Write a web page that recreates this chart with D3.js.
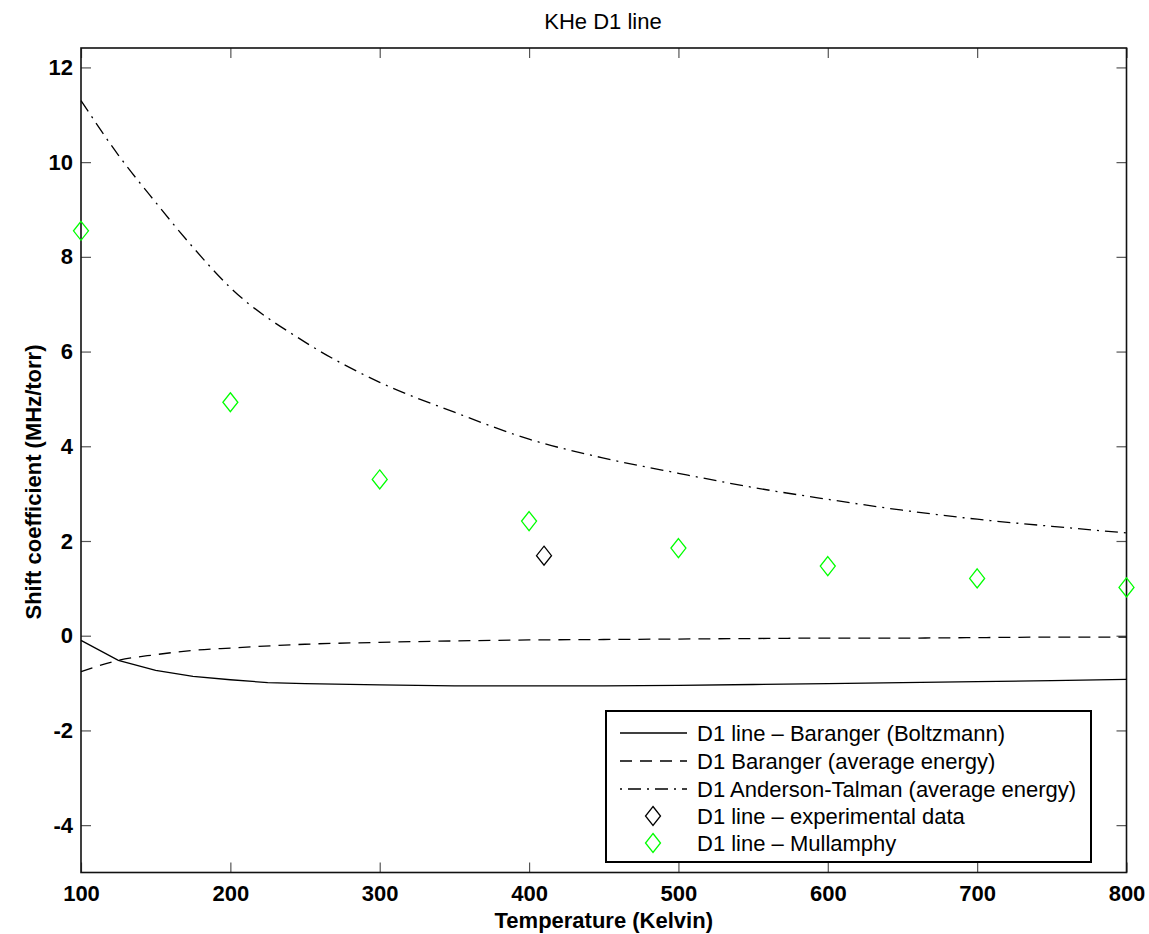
<!DOCTYPE html>
<html><head><meta charset="utf-8">
<script src="https://cdn.jsdelivr.net/npm/d3@7"></script>
<style>body{margin:0;background:#fff}svg{display:block}text{font-family:"Liberation Sans",Arial,sans-serif}</style>
</head><body><svg id="c" width="1149" height="934"></svg>
<script>
// Data
const tempBoltz = [100,125,150,175,200,225,250,300,350,400,450,500,550,600,650,700,750,800];
const shiftBoltz = [-0.10,-0.52,-0.73,-0.86,-0.93,-0.99,-1.01,-1.04,-1.06,-1.06,-1.06,-1.05,-1.03,-1.01,-0.99,-0.97,-0.95,-0.92];
const tempAvg = [100,125,150,175,200,250,300,350,400,450,500,550,600,650,700,750,800];
const shiftAvg = [-0.76,-0.52,-0.40,-0.31,-0.26,-0.18,-0.14,-0.11,-0.09,-0.08,-0.07,-0.06,-0.05,-0.05,-0.04,-0.03,-0.03];
const tempAT = [100,125,150,175,200,250,300,350,400,450,500,550,600,650,700,750,800];
const shiftAT = [11.30,10.15,9.15,8.20,7.35,6.20,5.35,4.72,4.15,3.75,3.43,3.13,2.88,2.65,2.46,2.31,2.17];
const tempExp = [410];
const shiftExp = [1.69];
const tempMull = [100,200,300,400,500,600,700,800];
const shiftMull = [8.55,4.93,3.30,2.42,1.85,1.47,1.21,1.02];
const xTicks = [100,200,300,400,500,600,700,800];
const yTicks = [-4,-2,0,2,4,6,8,10,12];
const legendLabels = ["D1 line \u2013 Baranger (Boltzmann)","D1 Baranger (average energy)","D1 Anderson-Talman (average energy)","D1 line \u2013 experimental data","D1 line \u2013 Mullamphy"];

const svg = d3.select("#c");
const L=81, R=1126.5, T=48, B=872.5;
const x = d3.scaleLinear().domain([100,800]).range([L,R]);
const y = d3.scaleLinear().domain([-5,12.41]).range([B,T]);

svg.append("rect").attr("width",1149).attr("height",934).attr("fill","#fff");

// axes with inward ticks
const tickLen=10;
const gB = svg.append("g").attr("transform",`translate(0,${B})`)
  .call(d3.axisBottom(x).tickValues(xTicks).tickSize(-tickLen).tickPadding(13).tickFormat(d=>String(d)));
const gT = svg.append("g").attr("transform",`translate(0,${T})`)
  .call(d3.axisTop(x).tickValues(xTicks).tickSize(-tickLen).tickFormat(""));
const gL = svg.append("g").attr("transform",`translate(${L},0)`)
  .call(d3.axisLeft(y).tickValues(yTicks).tickSize(-tickLen).tickPadding(8).tickFormat(d=>String(d)));
const gR = svg.append("g").attr("transform",`translate(${R},0)`)
  .call(d3.axisRight(y).tickValues(yTicks).tickSize(-tickLen).tickFormat(""));
[gB,gT,gL,gR].forEach(g=>{
  g.select(".domain").remove();
  g.selectAll(".tick line").attr("stroke","#555").attr("stroke-width",1.2);
  g.selectAll("text").attr("font-size",22).attr("font-weight","bold").attr("fill","#000");
});
gB.selectAll("text").attr("dy","0.71em");
svg.append("rect").attr("x",L).attr("y",T).attr("width",R-L).attr("height",B-T)
  .attr("fill","none").attr("stroke","#111").attr("stroke-width",1.6);

// lines
const mk = (ts,vs)=>ts.map((t,i)=>[t,vs[i]]);
const lineLin = d3.line().x(d=>x(d[0])).y(d=>y(d[1]));
const lineSm = d3.line().x(d=>x(d[0])).y(d=>y(d[1])).curve(d3.curveMonotoneX);
svg.append("path").attr("d",lineLin(mk(tempBoltz,shiftBoltz))).attr("fill","none").attr("stroke","#000").attr("stroke-width",1.3);
svg.append("path").attr("d",lineSm(mk(tempAvg,shiftAvg))).attr("fill","none").attr("stroke","#000").attr("stroke-width",1.3).attr("stroke-dasharray","12,8");
svg.append("path").attr("d",lineSm(mk(tempAT,shiftAT))).attr("fill","none").attr("stroke","#000").attr("stroke-width",1.3).attr("stroke-dasharray","13,6,2,6");

// markers
const diamond = (cx,cy)=>`M${cx},${cy-9.5}L${cx+7.5},${cy}L${cx},${cy+9.5}L${cx-7.5},${cy}Z`;
svg.selectAll(".mull").data(mk(tempMull,shiftMull)).join("path").attr("class","mull")
  .attr("d",d=>diamond(x(d[0]),y(d[1]))).attr("fill","none").attr("stroke","#00ff00").attr("stroke-width",1.3);
svg.selectAll(".exp").data(mk(tempExp,shiftExp)).join("path").attr("class","exp")
  .attr("d",d=>diamond(x(d[0]),y(d[1]))).attr("fill","none").attr("stroke","#000").attr("stroke-width",1.3);

// legend
const lg = svg.append("g");
lg.append("rect").attr("x",606).attr("y",711).attr("width",485).attr("height",151)
  .attr("fill","#fff").attr("stroke","#000").attr("stroke-width",2);
const rowsY=[733,761,789,816,843];
const styles=[{dash:null},{dash:"12,8"},{dash:"2,6,13,6"},{m:"#000"},{m:"#00ff00"}];
legendLabels.forEach((lab,i)=>{
  const s=styles[i], cy=rowsY[i];
  if(s.m){
    lg.append("path").attr("d",diamond(653,cy)).attr("fill","none").attr("stroke",s.m).attr("stroke-width",1.3);
  } else {
    const p=lg.append("line").attr("x1",620).attr("x2",687).attr("y1",cy).attr("y2",cy).attr("stroke","#000").attr("stroke-width",1.3);
    if(s.dash) p.attr("stroke-dasharray",s.dash);
  }
  lg.append("text").attr("x",697).attr("y",cy).attr("dy","0.36em").attr("font-size",22).attr("fill","#000").text(lab);
});

// titles
svg.append("text").attr("x",603).attr("y",29).attr("text-anchor","middle").attr("font-size",22).text("KHe D1 line");
svg.append("text").attr("x",(L+R)/2).attr("y",928).attr("text-anchor","middle").attr("font-size",22).attr("font-weight","bold").text("Temperature (Kelvin)");
svg.append("text").attr("transform","translate(41,482) rotate(-90)").attr("text-anchor","middle").attr("font-size",22).attr("font-weight","bold").text("Shift coefficient (MHz/torr)");
</script></body></html>
